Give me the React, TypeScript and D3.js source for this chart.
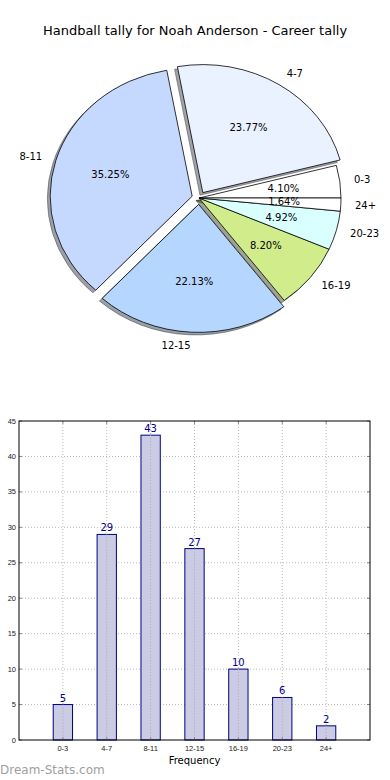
import React from "react";
import * as d3 from "d3";

const categories = ["0-3", "4-7", "8-11", "12-15", "16-19", "20-23", "24+"];
const counts = [5, 29, 43, 27, 10, 6, 2];
const sliceColors = ["#ffffff", "#eaf1ff", "#c5d9ff", "#b4d6ff", "#d1ec8b", "#d9ffff", "#ffffff"];
const explode = [0, 0.05, 0.05, 0.05, 0, 0, 0];
const yTickValues = [0, 5, 10, 15, 20, 25, 30, 35, 40, 45];

const W = 390;
const H = 780;
const FONT = "DejaVu Sans, Verdana, sans-serif";

// pie geometry (matplotlib-like, unit radius stretched to an ellipse)
const PIE = { cx: 199, cy: 198, sx: 142, sy: 128 };
// bar chart frame
const BAR = { left: 19, right: 370, top: 421, bottom: 740 };

function shade(c: string) {
  const rgb = d3.rgb(c);
  return d3.rgb(rgb.r * 0.3, rgb.g * 0.3, rgb.b * 0.3).formatHex();
}

function PieChart() {
  const total = d3.sum(counts);
  // start at 3 o'clock, go counter-clockwise like matplotlib
  const arcs = d3
    .pie<number>()
    .sort(null)
    .startAngle(Math.PI / 2)
    .endAngle(Math.PI / 2 - 2 * Math.PI)(counts);
  const arcGen = d3.arc<d3.PieArcDatum<number>>().innerRadius(0).outerRadius(1);

  const toScreen = (ux: number, uy: number) => [PIE.cx + ux * PIE.sx, PIE.cy + uy * PIE.sy];

  const slices = arcs.map((a, i) => {
    const mid = (a.startAngle + a.endAngle) / 2;
    const dx = Math.sin(mid);
    const dy = -Math.cos(mid);
    const e = explode[i];
    return { a, i, dx, dy, ox: dx * e, oy: dy * e };
  });

  return (
    <g>
      <text x={W / 2} y={30} textAnchor="middle" dominantBaseline="central" fontSize={13} fontFamily={FONT} fill="#000">
        Handball tally for Noah Anderson - Career tally
      </text>
      {/* shadows */}
      {slices.map((s) => (
        <path
          key={"sh" + s.i}
          d={arcGen(s.a) || ""}
          transform={`translate(${PIE.cx + (s.ox - 0.02) * PIE.sx},${PIE.cy + (s.oy + 0.02) * PIE.sy}) scale(${PIE.sx},${PIE.sy})`}
          fill={shade(sliceColors[s.i])}
          fillOpacity={0.5}
          stroke={shade(sliceColors[s.i])}
          strokeOpacity={0.5}
          strokeWidth={1}
          vectorEffect="non-scaling-stroke"
        />
      ))}
      {/* wedges */}
      {slices.map((s) => (
        <path
          key={"w" + s.i}
          d={arcGen(s.a) || ""}
          transform={`translate(${PIE.cx + s.ox * PIE.sx},${PIE.cy + s.oy * PIE.sy}) scale(${PIE.sx},${PIE.sy})`}
          fill={sliceColors[s.i]}
          stroke="#000"
          strokeWidth={0.8}
          vectorEffect="non-scaling-stroke"
        />
      ))}
      {/* labels */}
      {slices.map((s) => {
        const [lx, ly] = toScreen(s.dx * 1.1 + s.ox, s.dy * 1.1 + s.oy);
        const [px, py] = toScreen(s.dx * 0.6 + s.ox, s.dy * 0.6 + s.oy);
        const pct = ((counts[s.i] / total) * 100).toFixed(2) + "%";
        return (
          <g key={"l" + s.i} fontFamily={FONT} fontSize={10} fill="#000">
            <text x={lx} y={ly} textAnchor={s.dx > 0 ? "start" : "end"} dominantBaseline="central">
              {categories[s.i]}
            </text>
            <text x={px} y={py} textAnchor="middle" dominantBaseline="central">
              {pct}
            </text>
          </g>
        );
      })}
    </g>
  );
}

function BarChart() {
  const x = d3.scaleLinear().domain([-1, 7]).range([BAR.left, BAR.right]);
  const y = d3.scaleLinear().domain([0, 45]).range([BAR.bottom, BAR.top]);
  const barW = x(0.44) - x(0);
  const tickFont = "Liberation Sans, Arial, sans-serif";

  return (
    <g>
      {/* grid */}
      {yTickValues.slice(1, -1).map((v) => (
        <line key={"gy" + v} x1={BAR.left} x2={BAR.right} y1={y(v)} y2={y(v)} stroke="#b8b8b8" strokeWidth={1} strokeDasharray="1 2" />
      ))}
      {categories.map((c, i) => (
        <line key={"gx" + c} x1={x(i)} x2={x(i)} y1={BAR.top} y2={BAR.bottom} stroke="#b8b8b8" strokeWidth={1} strokeDasharray="1 2" />
      ))}
      {/* bars */}
      {counts.map((v, i) => (
        <g key={"b" + i}>
          <rect x={x(i) - barW / 2} y={y(v)} width={barW} height={y(0) - y(v)} fill="#cbcce3" stroke="#000080" strokeWidth={1} />
          <line x1={x(i)} x2={x(i)} y1={y(v)} y2={BAR.bottom} stroke="#a8a8c0" strokeWidth={1} strokeDasharray="1 2" />
          <text x={x(i)} y={y(v) - 3} textAnchor="middle" fontSize={10} fontFamily={FONT} fill="#00008b">
            {v}
          </text>
        </g>
      ))}
      {/* ticks */}
      {yTickValues.map((v) => (
        <g key={"ty" + v}>
          <line x1={BAR.left} x2={BAR.left + 3} y1={y(v)} y2={y(v)} stroke="#888" />
          <line x1={BAR.right - 3} x2={BAR.right} y1={y(v)} y2={y(v)} stroke="#888" />
          <text x={BAR.left - 3} y={y(v)} textAnchor="end" dominantBaseline="central" fontSize={7.5} fontFamily={tickFont} fill="#222">
            {v}
          </text>
        </g>
      ))}
      {categories.map((c, i) => (
        <g key={"tx" + c}>
          <line x1={x(i)} x2={x(i)} y1={BAR.bottom} y2={BAR.bottom - 3} stroke="#888" />
          <line x1={x(i)} x2={x(i)} y1={BAR.top} y2={BAR.top + 3} stroke="#888" />
          <text x={x(i)} y={BAR.bottom + 8} textAnchor="middle" dominantBaseline="central" fontSize={7.5} fontFamily={tickFont} fill="#222">
            {c}
          </text>
        </g>
      ))}
      <rect x={BAR.left} y={BAR.top} width={BAR.right - BAR.left} height={BAR.bottom - BAR.top} fill="none" stroke="#000" strokeWidth={1} />
      <text x={(BAR.left + BAR.right) / 2} y={760} textAnchor="middle" dominantBaseline="central" fontSize={10} fontFamily={FONT} fill="#000">
        Frequency
      </text>
    </g>
  );
}

export default function App() {
  return (
    <div style={{ position: "absolute", left: 0, top: 0 }}>
      <svg width={W} height={H} viewBox={`0 0 ${W} ${H}`} style={{ display: "block", background: "#fff" }}>
        <PieChart />
        <BarChart />
        <text x={0} y={774} fontSize={12} fontFamily={FONT} fill="#a0a0a0">
          Dream-Stats.com
        </text>
      </svg>
    </div>
  );
}
